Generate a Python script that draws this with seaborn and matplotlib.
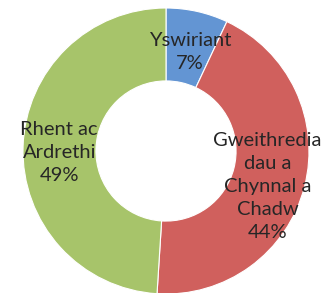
import matplotlib
matplotlib.use("Agg")
import matplotlib.pyplot as plt
import matplotlib.transforms as mtransforms
import seaborn as sns

# ── Data ──────────────────────────────────────────
label_text = ["Yswiriant", "Gweithredia\ndau a\nChynnal a\nChadw", "Rhent ac\nArdrethi"]
shares = [7, 44, 49]
colors = ["#6395D3", "#D0605D", "#A7C46A"]
# small nudges (pixels) so labels sit where the original put them
label_nudge = [(1, -4), (-1, -9), (-1, -5)]

sns.set_theme(style="white")
plt.rcParams["font.family"] = ["Lato", "DejaVu Sans"]

fig = plt.figure(figsize=(3.22, 2.93), dpi=100)
fig.patch.set_facecolor("white")
# ring fills the figure height, centred slightly right
ax = fig.add_axes([23 / 322, -1 / 293, 286 / 322, 286 / 293])

labels = [f"{t}\n{v}%" for t, v in zip(label_text, shares)]
wedges, texts = ax.pie(
    shares,
    labels=labels,
    colors=colors,
    startangle=90,
    counterclock=False,
    labeldistance=0.74,
    wedgeprops=dict(width=0.51, edgecolor="white", linewidth=0.8),
    textprops=dict(fontsize=14.5, color="#262626", linespacing=1.42),
)
for t, (dx, dy) in zip(texts, label_nudge):
    t.set_horizontalalignment("center")
    t.set_verticalalignment("center")
    t.set_transform(mtransforms.offset_copy(ax.transData, fig=fig, x=dx, y=dy, units="dots"))

ax.set_xlim(-1, 1)
ax.set_ylim(-1, 1)
ax.set_aspect("equal")
ax.axis("off")

fig.savefig("out.png", dpi=100, facecolor="white")
